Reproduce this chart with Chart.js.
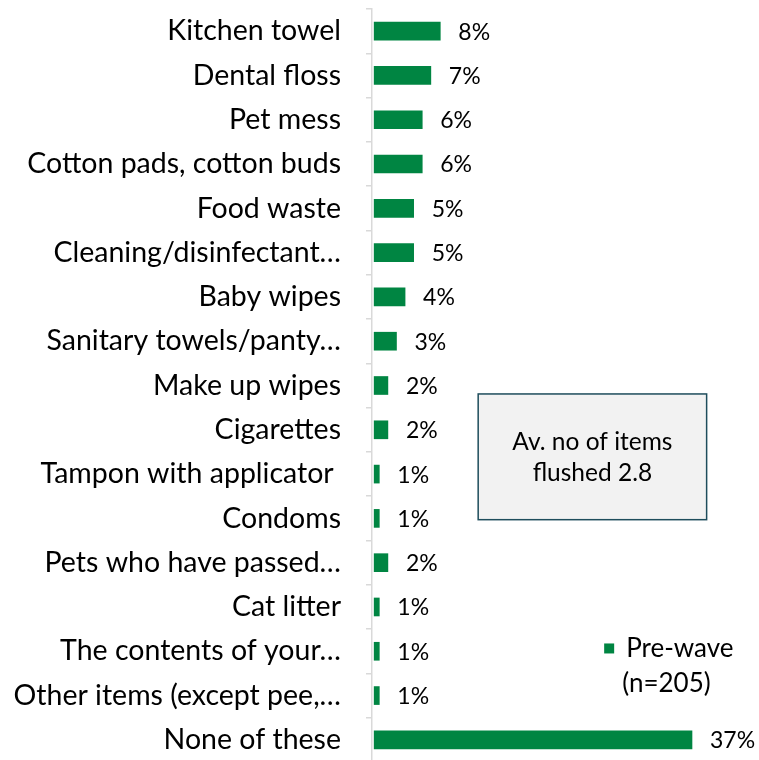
<!DOCTYPE html>
<html>
<head>
<meta charset="utf-8">
<script src="https://cdn.jsdelivr.net/npm/chart.js@4.4.1/dist/chart.umd.min.js"></script>
<style>
    html, body { margin: 0; padding: 0; background: #fff; overflow: hidden; }
    #wrap { width: 759px; height: 762px; position: relative; }
</style>
</head>
<body>
<div id="wrap"><canvas id="flushChart"></canvas></div>
<script>
// categories and values (percent of respondents)
var categories = [
    'Kitchen towel',
    'Dental floss',
    'Pet mess',
    'Cotton pads, cotton buds',
    'Food waste',
    'Cleaning/disinfectant\u2026',
    'Baby wipes',
    'Sanitary towels/panty\u2026',
    'Make up wipes',
    'Cigarettes',
    'Tampon with applicator ',
    'Condoms',
    'Pets who have passed\u2026',
    'Cat litter',
    'The contents of your\u2026',
    'Other items (except pee,\u2026',
    'None of these'
];
var preWave = [7.7, 6.6, 5.6, 5.6, 4.6, 4.6, 3.6, 2.6, 1.6, 1.6, 0.6, 0.6, 1.6, 0.6, 0.6, 0.6, 37];
var legendLines = ['Pre-wave', '(n=205)'];
var noteLines = ['Av. no of items', 'flushed 2.8'];

var green = '#008542';
var fontName = 'Lato';

/*********************** Data labels ************************/
var valueLabels = {
    id: 'valueLabels',
    afterDatasetsDraw: function (chart) {
        var ctx = chart.ctx;
        var meta = chart.getDatasetMeta(0);
        ctx.save();
        ctx.font = '23px ' + fontName;
        ctx.fillStyle = '#000';
        ctx.textBaseline = 'middle';
        ctx.textAlign = 'left';
        meta.data.forEach(function (bar, i) {
            ctx.fillText(Math.round(preWave[i]) + '%', bar.x + 18, bar.y + 1);
        });
        ctx.restore();
    }
};

/*********************** Note box + legend ************************/
var extras = {
    id: 'extras',
    afterDraw: function (chart) {
        var ctx = chart.ctx;
        var W = chart.width, H = chart.height;
        ctx.save();

        // note box
        var bx = W * 0.63, by = H * 0.517, bw = W * 0.301, bh = H * 0.165;
        ctx.fillStyle = '#f2f2f2';
        ctx.fillRect(bx, by, bw, bh);
        ctx.strokeStyle = '#1e4d5c';
        ctx.lineWidth = 1.5;
        ctx.strokeRect(bx, by, bw, bh);
        ctx.fillStyle = '#000';
        ctx.font = '24.5px ' + fontName;
        ctx.textAlign = 'center';
        ctx.textBaseline = 'middle';
        ctx.fillText(noteLines[0], bx + bw / 2, by + bh * 0.38);
        ctx.fillText(noteLines[1], bx + bw / 2, by + bh * 0.63);

        // legend
        var lx = W * 0.796, ly = H * 0.851;
        ctx.fillStyle = green;
        ctx.fillRect(lx, ly - 5, 10, 10);
        ctx.fillStyle = '#000';
        ctx.font = '26px ' + fontName;
        ctx.textAlign = 'left';
        ctx.fillText(legendLines[0], lx + 22, ly);
        ctx.fillText(legendLines[1], lx + 18, ly + 35);

        ctx.restore();
    }
};

var ctx = document.getElementById('flushChart').getContext('2d');
var flushChart = new Chart(ctx, {
    type: 'bar',
    data: {
        labels: categories,
        datasets: [{
            label: legendLines.join(' '),
            data: preWave,
            backgroundColor: green,
            borderWidth: 0,
            barThickness: 18
        }]
    },
    options: {
        indexAxis: 'y',
        responsive: true,
        maintainAspectRatio: false,
        animation: false,
        layout: { padding: { top: 9, right: 0, bottom: 0, left: 0 } },
        plugins: {
            legend: { display: false },
            tooltip: { enabled: false }
        },
        scales: {
            x: {
                display: false,
                min: -0.25,
                max: 44.8
            },
            y: {
                afterFit: function (scale) {
                    scale.width = 372;
                    scale.paddingTop = 0;
                    scale.paddingBottom = 0;
                },
                border: { color: '#d9d9d9', width: 1.5 },
                grid: {
                    offset: true,
                    drawOnChartArea: false,
                    drawTicks: true,
                    tickLength: 6,
                    color: '#d9d9d9',
                    lineWidth: 1.5
                },
                ticks: {
                    autoSkip: false,
                    padding: 25,
                    color: '#000',
                    font: { family: fontName, size: 28.5 }
                }
            }
        }
    },
    plugins: [valueLabels, extras]
});
</script>
</body>
</html>
